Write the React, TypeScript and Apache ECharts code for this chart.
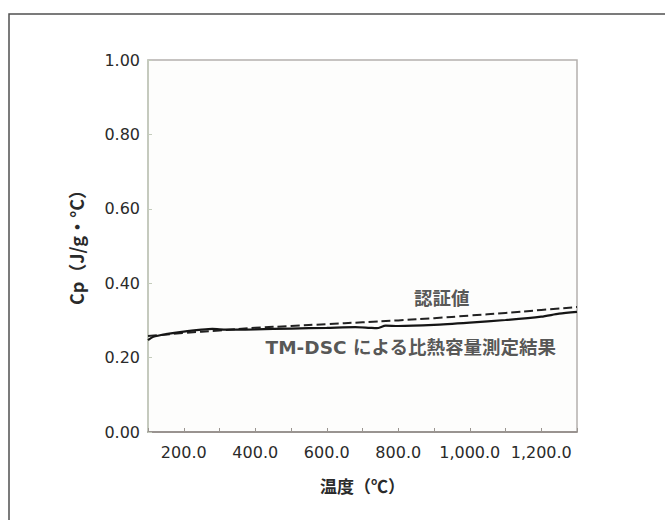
import React, { useEffect, useRef } from "react";
import * as echarts from "echarts";

const temps = [100, 115, 150, 200, 250, 280, 320, 400, 500, 600, 680, 720, 740, 765, 800, 900, 1000, 1100, 1200, 1250, 1300];
const measured = [0.247, 0.256, 0.263, 0.27, 0.275, 0.277, 0.275, 0.276, 0.278, 0.28, 0.282, 0.28, 0.279, 0.286, 0.285, 0.288, 0.294, 0.301, 0.31, 0.318, 0.323];
const certTemps = [100, 200, 300, 400, 500, 600, 700, 800, 900, 1000, 1100, 1200, 1300];
const certified = [0.258, 0.266, 0.273, 0.28, 0.285, 0.29, 0.295, 0.3, 0.306, 0.313, 0.32, 0.328, 0.336];
const annotationNames = ["認証値", "TM-DSC による比熱容量測定結果"];
const annotationX = [922, 835];
const annotationY = [0.36, 0.228];
const yTicks = [0, 0.2, 0.4, 0.6, 0.8, 1.0];

const CJK = "'Noto Sans CJK JP', 'Noto Sans', sans-serif";
const NUM = "'DejaVu Sans', 'Noto Sans CJK JP', sans-serif";

export default function App() {
  const ref = useRef<HTMLDivElement>(null);
  useEffect(() => {
    if (!ref.current) return;
    const chart = echarts.init(ref.current, undefined, { renderer: "svg" });
    chart.setOption({
      animation: false,
      backgroundColor: "#ffffff",
      textStyle: { fontFamily: CJK },
      graphic: [
        {
          type: "rect",
          shape: { x: 9, y: 14, width: 700, height: 600 },
          style: { fill: "none", stroke: "#505050", lineWidth: 1.5 },
          silent: true,
        },
      ],
      grid: {
        left: 148,
        right: 88,
        top: 60,
        bottom: 88,
        show: true,
        borderColor: "#b4b0ad",
        borderWidth: 1.5,
        backgroundColor: "#fdfdfc",
      },
      xAxis: {
        type: "value",
        min: 100,
        max: 1300,
        interval: 100,
        name: "温度（℃）",
        nameLocation: "middle",
        nameGap: 45,
        nameTextStyle: { fontSize: 17, fontWeight: "bold", color: "#2a2a2a", fontFamily: CJK },
        axisLine: { show: true, lineStyle: { color: "#8a8480", width: 1.5 } },
        axisTick: { show: true, inside: true, length: 4, lineStyle: { color: "#9a9590" } },
        splitLine: { show: false },
        axisLabel: {
          fontSize: 16,
          color: "#2a2a2a",
          margin: 12,
          fontFamily: NUM,
          formatter: (v: number) =>
            v % 200 === 0
              ? v.toLocaleString("en-US", { minimumFractionDigits: 1, maximumFractionDigits: 1 })
              : "",
        },
      },
      yAxis: {
        type: "value",
        min: 0,
        max: 1,
        interval: 0.2,
        name: "Cp（J/g・°C）",
        nameLocation: "middle",
        nameGap: 63,
        nameTextStyle: {
          fontSize: 18,
          fontWeight: "bold",
          color: "#2a2a2a",
          fontFamily: CJK,
          padding: [0, 0, 0, 6],
        },
        axisLine: { show: true, lineStyle: { color: "#c4ccbc", width: 1.5 } },
        axisTick: { show: true, inside: true, length: 4, lineStyle: { color: "#c4ccbc" } },
        splitLine: { show: false },
        axisLabel: {
          fontSize: 16,
          color: "#2a2a2a",
          margin: 8,
          fontFamily: NUM,
          formatter: (v: number) => (yTicks.some((t) => Math.abs(t - v) < 1e-9) ? v.toFixed(2) : ""),
        },
      },
      series: [
        {
          name: "認証値",
          type: "line",
          data: certTemps.map((t, i) => [t, certified[i]]),
          showSymbol: false,
          smooth: true,
          lineStyle: { color: "#222222", width: 2, type: [9, 4] },
        },
        {
          name: "TM-DSC",
          type: "line",
          data: temps.map((t, i) => [t, measured[i]]),
          showSymbol: false,
          smooth: 0.25,
          lineStyle: { color: "#151515", width: 2.2 },
        },
        {
          type: "scatter",
          symbolSize: 0,
          silent: true,
          data: annotationNames.map((n, i) => ({ name: n, value: [annotationX[i], annotationY[i]] })),
          label: {
            show: true,
            position: "inside",
            formatter: (p: any) => p.name,
            fontSize: 18.5,
            fontWeight: "bold",
            color: "#2a2a2a",
            fontFamily: NUM,
          },
        },
      ],
    });
    return () => chart.dispose();
  }, []);
  return <div ref={ref} style={{ position: "fixed", left: 0, top: 0, width: 665, height: 520 }} />;
}
